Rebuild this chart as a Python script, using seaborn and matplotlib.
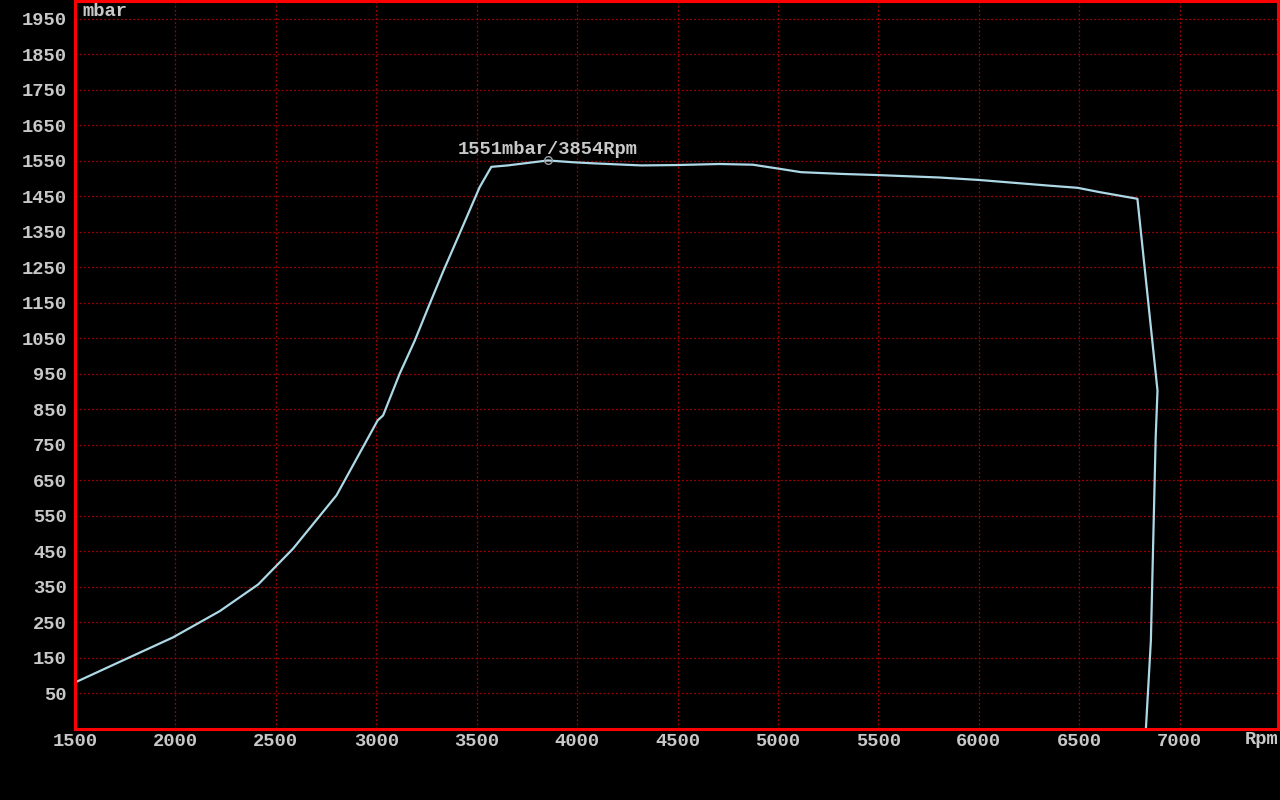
import matplotlib
matplotlib.use("Agg")
import numpy as np
import pandas as pd
import seaborn as sns
from matplotlib import pyplot as plt

# boost curve
rpm = [1500, 1757, 1988, 2221, 2412, 2586, 2802, 3007, 3034, 3117, 3192,
       3266, 3332, 3415, 3515, 3573, 3655, 3854, 3978, 4077, 4195, 4320,
       4493, 4710, 4875, 4991, 5115, 5322, 5488, 5803, 6002, 6351, 6492,
       6600, 6790, 6890, 6881, 6857, 6832]
mbar = [81, 148, 208, 282, 357, 458, 608, 819, 833, 951, 1044,
        1147, 1237, 1345, 1476, 1533, 1537, 1551, 1546, 1543, 1540, 1537,
        1538, 1541, 1539, 1529, 1518, 1513, 1510, 1503, 1496, 1480, 1474,
        1462, 1443, 903, 772, 199, -52]

peak_rpm = 3854
peak_mbar = 1551

x_ticks = list(range(1500, 7001, 500))
y_ticks = list(range(50, 1951, 100))

TEXT = "#c8c8c8"
RED = "#ff0000"
GRID = "#a00000"


def boost_plot() -> None:
    sns.set_style("dark", {
        "axes.facecolor": "black",
        "figure.facecolor": "black",
        "axes.edgecolor": RED,
        "grid.color": GRID,
    })
    plt.rcParams["font.family"] = ["Liberation Mono", "DejaVu Sans Mono"]
    plt.rcParams["font.weight"] = "bold"

    df = pd.DataFrame({"rpm": rpm, "mbar": mbar})

    fig = plt.figure(figsize=(12.8, 8), dpi=100)
    ax = fig.add_axes([75 / 1280, 1 - 729 / 800, 1203 / 1280, 728 / 800])

    sns.lineplot(data=df, x="rpm", y="mbar", sort=False, estimator=None,
                 color="#add8e6", linewidth=1.6, ax=ax)

    # peak marker + label
    ax.plot([peak_rpm], [peak_mbar], marker="o", markersize=5.5,
            markerfacecolor="none", markeredgecolor="#9aa0a6",
            markeredgewidth=1.0, linestyle="none")
    ax.annotate(f"{peak_mbar}mbar/{peak_rpm}Rpm", xy=(peak_rpm, peak_mbar),
                xytext=(-65, 8), textcoords="offset points",
                ha="left", va="center", color=TEXT, fontsize=13.5,
                fontweight="bold")

    ax.set_xlim(1500, 7490)
    ax.set_ylim(-50, 2000)
    ax.set_xticks(x_ticks)
    ax.set_yticks(y_ticks)
    ax.set_xlabel("")
    ax.set_ylabel("")
    ax.tick_params(axis="both", length=0, colors=TEXT, labelsize=13.5)
    ax.tick_params(axis="x", pad=3)
    ax.tick_params(axis="y", pad=6)

    ax.grid(True, color=GRID, linestyle=(0, (1.5, 1.8)), linewidth=0.9)
    for side in ax.spines.values():
        side.set_visible(True)
        side.set_color(RED)
        side.set_linewidth(2.2)

    ax.text(0.006, 0.997, "mbar", transform=ax.transAxes, ha="left",
            va="top", color=TEXT, fontsize=13.5, fontweight="bold")
    fig.text(1278 / 1280, 1 - 739 / 800, "Rpm", ha="right", va="center",
             color=TEXT, fontsize=13.5, fontweight="bold")

    fig.savefig("out.png", dpi=100, facecolor="black")


if __name__ == "__main__":
    boost_plot()
